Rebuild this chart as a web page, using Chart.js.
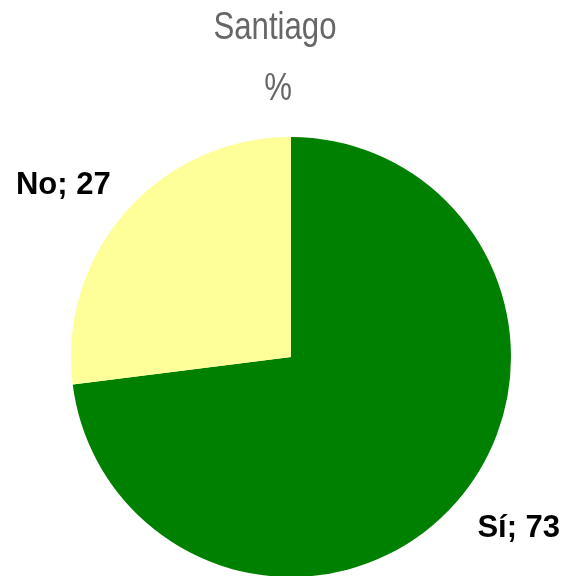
<!DOCTYPE html>
<html>
<head>
<meta charset="utf-8">
<script src="https://cdn.jsdelivr.net/npm/chart.js@4"></script>
<style>
  html, body { margin: 0; padding: 0; background: #fff; }
  #wrap { width: 567px; height: 576px; }
</style>
</head>
<body>
<div id="wrap"><canvas id="myChart" width="567" height="576"></canvas></div>
<script>
const categories = ['Sí', 'No'];
const values = [73, 27];
const titleLines = ['Santiago', '%'];

const sliceColors = [
    '#008000',  // green
    '#FFFF99'   // light yellow
];

// narrow look: squeeze normal sans horizontally
function narrowText(ctx, text, x, y) {
    ctx.save();
    ctx.translate(x, y);
    ctx.scale(0.82, 1);
    ctx.fillText(text, 0, 0);
    ctx.restore();
}

// titles + outside labels "Cat; value"
const textPlugin = {
    id: 'textPlugin',
    afterDraw(chart) {
        const ctx = chart.ctx;
        ctx.save();
        ctx.fillStyle = '#666666';
        ctx.textAlign = 'center';
        ctx.textBaseline = 'alphabetic';
        ctx.font = '38px "Liberation Sans", Arial, sans-serif';
        narrowText(ctx, titleLines[0], 275, 39);
        narrowText(ctx, titleLines[1], 278, 100);

        ctx.fillStyle = '#000';
        ctx.textBaseline = 'middle';
        ctx.font = 'bold 31px "Liberation Sans", Arial, sans-serif';
        const meta = chart.getDatasetMeta(0);
        meta.data.forEach((arc, i) => {
            const mid = (arc.startAngle + arc.endAngle) / 2 - 0.078;
            const r = arc.outerRadius * 1.295;
            const x = arc.x + Math.cos(mid) * r;
            const y = arc.y + Math.sin(mid) * r;
            ctx.fillText(categories[i] + '; ' + values[i], x, y);
        });
        ctx.restore();
    }
};

const ctx = document.getElementById('myChart').getContext('2d');
new Chart(ctx, {
    type: 'pie',
    data: {
        labels: categories,
        datasets: [{
            data: values,
            backgroundColor: sliceColors,
            borderWidth: 0
        }]
    },
    options: {
        responsive: false,
        animation: false,
        radius: 220,
        layout: { padding: { top: 138, left: 71, right: 56, bottom: 0 } },
        plugins: {
            legend: { display: false },
            tooltip: { enabled: false },
            title: { display: false }
        }
    },
    plugins: [textPlugin]
});
</script>
</body>
</html>
